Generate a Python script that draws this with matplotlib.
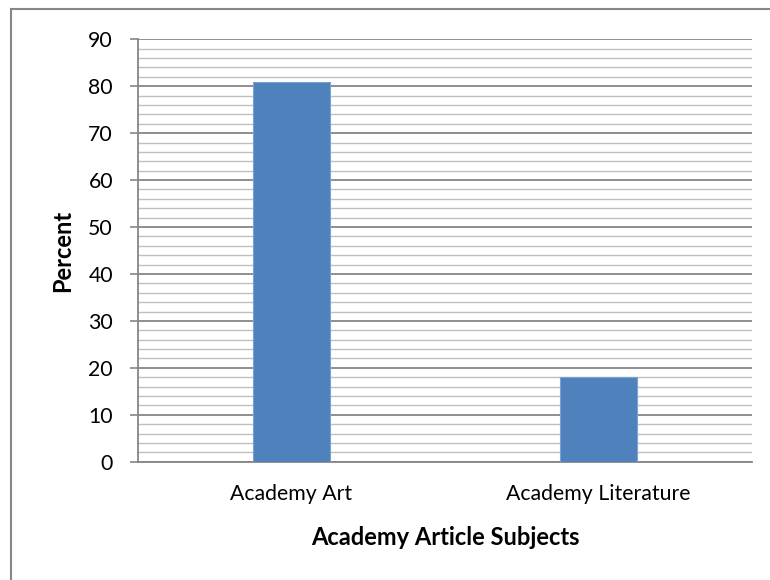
import matplotlib
matplotlib.use('Agg')
import matplotlib.pyplot as plt
from matplotlib.ticker import MultipleLocator
from matplotlib.patches import Rectangle

categories = ['Academy Art', 'Academy Literature']
percent = [81, 18]
y_ticks = list(range(0, 91, 10))

plt.rcParams['font.family'] = ['Lato', 'DejaVu Sans']

fig = plt.figure(figsize=(7.7, 5.8), dpi=100)
ax = fig.add_axes([138/770, 1-461.7/580, (752-138)/770, (461.7-39.3)/580])

x = range(len(categories))
ax.bar(x, percent, width=0.25, color='#4f81bd', edgecolor='#7da1d4', linewidth=0.8, zorder=3)

ax.set_xlim(-0.5, 1.5)
ax.set_ylim(0, 90)
ax.set_yticks(y_ticks)
ax.yaxis.set_minor_locator(MultipleLocator(2))
ax.grid(axis='y', which='major', color='#868686', linewidth=1.3, zorder=0)
ax.grid(axis='y', which='minor', color='#bfbfbf', linewidth=1.0, zorder=0)
ax.set_axisbelow(True)

ax.set_xticks(list(x))
ax.set_xticklabels(categories)
ax.tick_params(axis='x', length=0, pad=16, labelsize=15.3)
ax.tick_params(axis='y', which='major', length=6, width=1.2, color='#868686', pad=12, labelsize=15.3)
ax.tick_params(axis='y', which='minor', length=0)

for s in ['top', 'right']:
    ax.spines[s].set_visible(False)
for s in ['left', 'bottom']:
    ax.spines[s].set_color('#868686')
    ax.spines[s].set_linewidth(1.3)

ax.set_xlabel('Academy Article Subjects', fontsize=17, fontweight='bold', labelpad=16)
ax.set_ylabel('Percent', fontsize=17, fontweight='bold', labelpad=10)

fig.patches.append(Rectangle((11/770, -0.1), 1.2, 1.1 - 9/580, transform=fig.transFigure,
                             fill=False, edgecolor='#868686', linewidth=1.5))

fig.savefig('out.png', dpi=100)
